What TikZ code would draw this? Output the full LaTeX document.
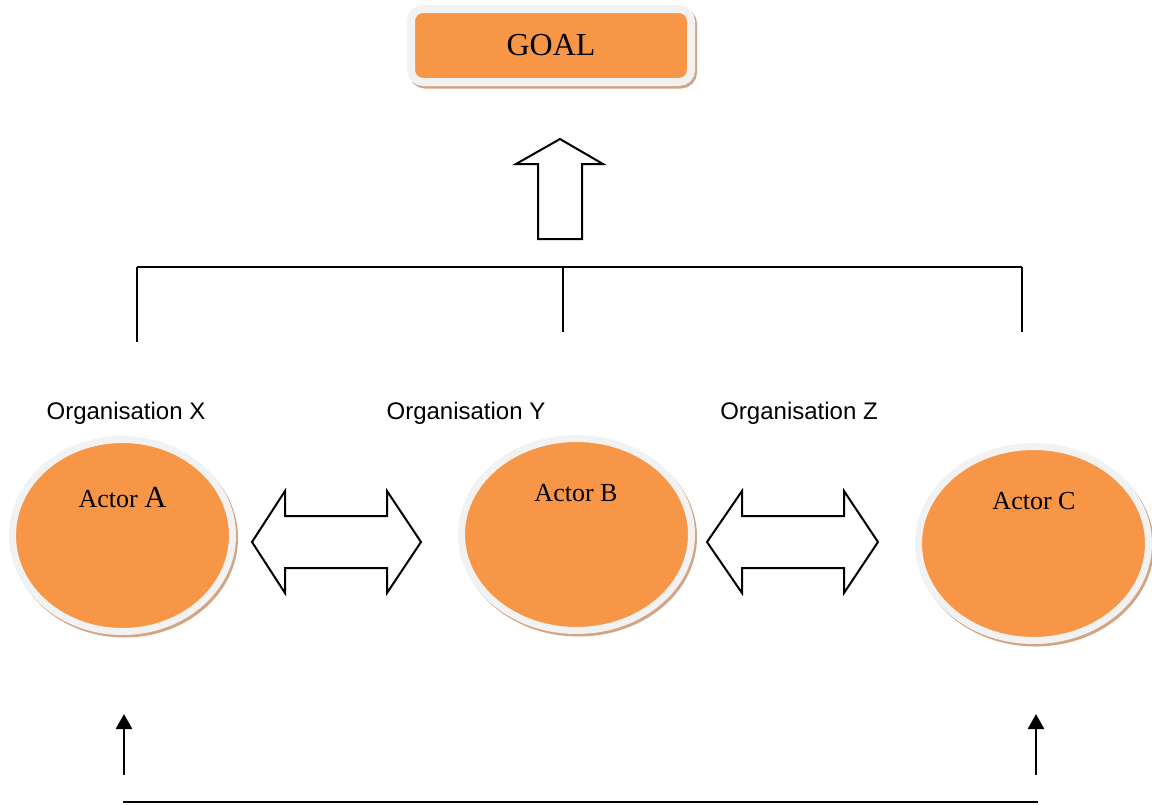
\documentclass[tikz,border=0pt]{standalone}
\usepackage{fontspec}
\setmainfont{Liberation Serif}
\setsansfont{Liberation Sans}
\usetikzlibrary{shapes.geometric,arrows.meta}
\definecolor{actororange}{HTML}{F79646}
\definecolor{ringgray}{HTML}{F2F2F2}
\definecolor{shadowtan}{HTML}{D3A584}
\begin{document}
\begin{tikzpicture}[x=0.75pt,y=-0.75pt,
  actor/.style={ellipse, fill=actororange, draw=ringgray, line width=5.25pt, inner sep=0pt},
  actorshadow/.style={ellipse, fill=shadowtan, draw=shadowtan, line width=5.25pt, inner sep=0pt},
  size/.style n args={2}{minimum width=#1, minimum height=#2},
  goalbox/.style={rectangle, rounded corners=9pt, fill=actororange, draw=ringgray, line width=6pt,
    inner sep=0pt, minimum width=210pt, minimum height=54.75pt, font=\fontsize{24}{28}\selectfont},
  goalshadow/.style={rectangle, rounded corners=9pt, fill=shadowtan, draw=shadowtan, line width=6pt,
    inner sep=0pt, minimum width=210pt, minimum height=54.75pt},
  orglabel/.style={font=\sffamily\fontsize{18}{20}\selectfont, anchor=base},
  actorlabel/.style={font=\fontsize{19.5}{22}\selectfont, anchor=base},
  blockarrow/.style={draw=black, fill=white, line width=1.5pt, line join=miter},
  bracket/.style={draw=black, line width=1.1pt},
  feed/.style={draw=black, line width=2pt, -{Triangle[length=11.25pt, width=12pt]}}
]
\useasboundingbox (0,0) rectangle (1152,804);

% goal box with its drop shadow
\node[goalshadow] (goalsh) at (553,48) {};
\node[goalbox] (goal) at (551,45.5) {GOAL};

% block arrow pointing up to the goal
\coordinate (up) at (560,189);
\draw[blockarrow] (up) ++(0,-50) -- ++(43,25) -- ++(-21,0) -- ++(0,75) -- ++(-44,0)
  -- ++(0,-75) -- ++(-22,0) -- cycle;

% bracket joining the three organisations
\coordinate (brL) at (137,267);
\coordinate (brM) at (563,267);
\coordinate (brR) at (1022,267);
\draw[bracket] (brL) -- (brR);
\draw[bracket] (brL) -- ++(0,75);
\draw[bracket] (brM) -- ++(0,65);
\draw[bracket] (brR) -- ++(0,65);

% organisation labels
\node[orglabel] (orgX) at (126,419) {Organisation X};
\node[orglabel] (orgY) at (466,419) {Organisation Y};
\node[orglabel] (orgZ) at (799,419) {Organisation Z};

% actors: shadow, ring and orange body
\node[actorshadow, size={165pt}{144pt}] (Ash) at (124.5,538) {};
\node[actor, size={165pt}{144pt}] (A) at (122.5,535.5) {};
\node[actorshadow, size={172.5pt}{144pt}] (Bsh) at (578.5,537) {};
\node[actor, size={172.5pt}{144pt}] (B) at (576.5,534.5) {};
\node[actorshadow, size={172.5pt}{145.5pt}] (Csh) at (1035.5,546) {};
\node[actor, size={172.5pt}{145.5pt}] (C) at (1033.5,543.5) {};

\node[actorlabel] (Alab) at (122.5,507) {Actor {\fontsize{23}{26}\selectfont A}};
\node[actorlabel] (Blab) at (576,501) {Actor B};
\node[actorlabel] (Clab) at (1034,509) {Actor C};

% two-way block arrows between neighbouring actors
\coordinate (ab) at (336.5,542);
\draw[blockarrow] (ab) ++(-84.5,0) -- ++(33,-51) -- ++(0,25) -- ++(102,0) -- ++(0,-25)
  -- ++(34,51) -- ++(-34,51) -- ++(0,-25) -- ++(-102,0) -- ++(0,25) -- cycle;
\coordinate (bc) at (792.5,542);
\draw[blockarrow] (bc) ++(-85.5,0) -- ++(35,-51) -- ++(0,25) -- ++(102,0) -- ++(0,-25)
  -- ++(34,51) -- ++(-34,51) -- ++(0,-25) -- ++(-102,0) -- ++(0,25) -- cycle;

% feedback arrows and base line
\coordinate (fA) at (124,775);
\coordinate (fC) at (1036,775);
\coordinate (baseL) at (123,802);
\coordinate (baseR) at (1038,802);
\draw[feed] (fA) -- ++(0,-61);
\draw[feed] (fC) -- ++(0,-61);
\draw[draw=black, line width=1.6pt] (baseL) -- (baseR);
\end{tikzpicture}
\end{document}
